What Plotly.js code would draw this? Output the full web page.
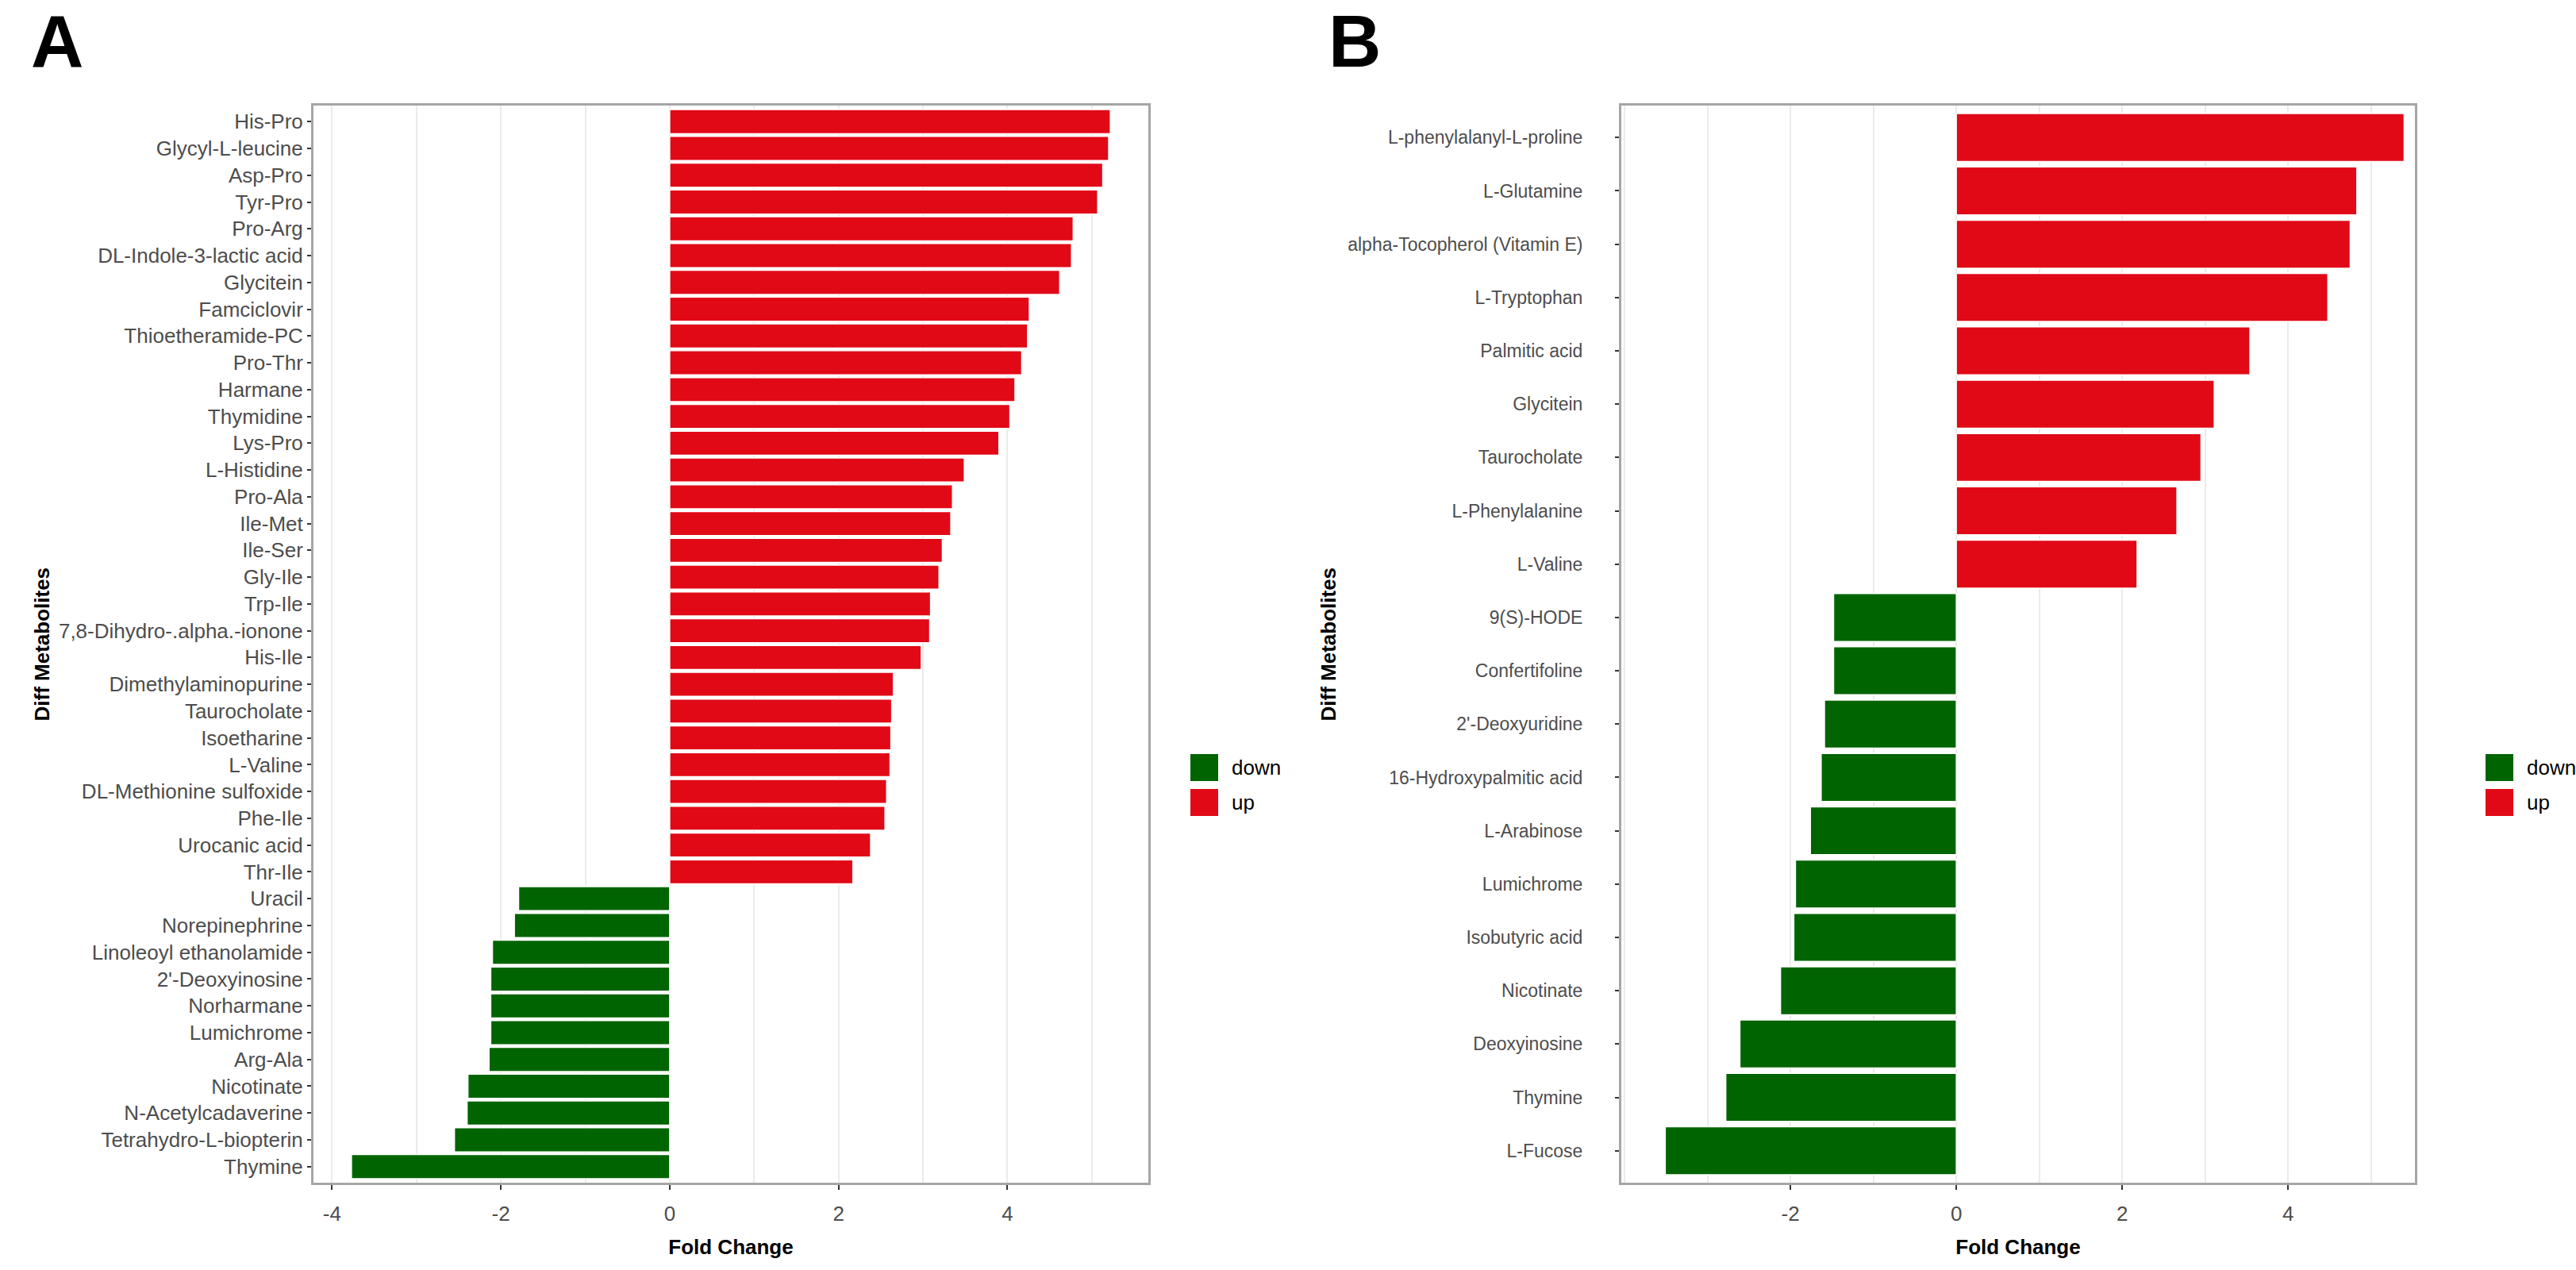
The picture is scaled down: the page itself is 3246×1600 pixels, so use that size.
<!DOCTYPE html>
<html><head><meta charset="utf-8">
<script src="https://cdn.plot.ly/plotly-3.0.1.min.js"></script>
<style>html,body{margin:0;padding:0;background:#fff}</style>
</head><body>
<div id="chart" style="width:3246px;height:1600px"></div>
<script>
// ---------- data ----------
const metabolitesA = ['His-Pro','Glycyl-L-leucine','Asp-Pro','Tyr-Pro','Pro-Arg','DL-Indole-3-lactic acid','Glycitein','Famciclovir','Thioetheramide-PC','Pro-Thr','Harmane','Thymidine','Lys-Pro','L-Histidine','Pro-Ala','Ile-Met','Ile-Ser','Gly-Ile','Trp-Ile','7,8-Dihydro-.alpha.-ionone','His-Ile','Dimethylaminopurine','Taurocholate','Isoetharine','L-Valine','DL-Methionine sulfoxide','Phe-Ile','Urocanic acid','Thr-Ile','Uracil','Norepinephrine','Linoleoyl ethanolamide',"2'-Deoxyinosine",'Norharmane','Lumichrome','Arg-Ala','Nicotinate','N-Acetylcadaverine','Tetrahydro-L-biopterin','Thymine'];
const foldChangeA = [5.22,5.20,5.13,5.07,4.78,4.76,4.62,4.26,4.24,4.17,4.09,4.03,3.90,3.49,3.35,3.33,3.23,3.19,3.09,3.08,2.98,2.65,2.63,2.62,2.61,2.57,2.55,2.38,2.17,-1.79,-1.84,-2.10,-2.12,-2.12,-2.12,-2.14,-2.39,-2.40,-2.55,-3.77];

const metabolitesB = ['L-phenylalanyl-L-proline','L-Glutamine','alpha-Tocopherol (Vitamin E)','L-Tryptophan','Palmitic acid','Glycitein','Taurocholate','L-Phenylalanine','L-Valine','9(S)-HODE','Confertifoline',"2'-Deoxyuridine",'16-Hydroxypalmitic acid','L-Arabinose','Lumichrome','Isobutyric acid','Nicotinate','Deoxyinosine','Thymine','L-Fucose'];
const foldChangeB = [5.40,4.83,4.75,4.48,3.54,3.11,2.95,2.66,2.18,-1.48,-1.48,-1.59,-1.63,-1.76,-1.94,-1.96,-2.12,-2.61,-2.78,-3.51];

const groupLabels = ['down','up'];
const ticksA = [-4,-2,0,2,4];
const ticksB = [-2,0,2,4];
const xTitle = 'Fold Change';
const yTitle = 'Diff Metabolites';
const panelLabels = ['A','B'];

// ---------- style ----------
const W = 3246, H = 1600;
const COLORS = {down:'#006400', up:'#E10916'};
const FONT = 'Liberation Sans, Arial, Helvetica, sans-serif';
const px = v => v / W;
const py = v => 1 - v / H;

function split(names, vals, xa, ya) {
  return groupLabels.map(g => {
    const y = [], x = [];
    names.forEach((n, i) => {
      const isUp = vals[i] > 0;
      if ((g === 'up') === isUp) { y.push(n); x.push(vals[i]); }
    });
    return {
      type:'bar', orientation:'h', x, y, name:g, xaxis:xa, yaxis:ya,
      width:0.9, showlegend:false, hoverinfo:'x+y',
      marker:{color:COLORS[g], line:{color:'#ffffff', width:1.5}}
    };
  });
}

const data = [
  ...split(metabolitesA, foldChangeA, 'x', 'y'),
  ...split(metabolitesB, foldChangeB, 'x2', 'y2')
];

const plotTop = 133, plotBottom = 1490;
function xAxis(dom, range, ticks, anchor) {
  return {
    domain:[px(dom[0]), px(dom[1])], anchor, range,
    tickvals:ticks, ticktext:ticks.map(String),
    tickfont:{family:FONT, size:26, color:'#4d4d4d'},
    ticks:'outside', ticklen:6, tickwidth:2, tickcolor:'#333333', ticklabelstandoff:8,
    showgrid:true, gridcolor:'#ebebeb', gridwidth:2,
    minor:{dtick:1, tick0:0, showgrid:true, gridcolor:'#ebebeb', gridwidth:2, ticklen:0},
    zeroline:false, showline:true, mirror:true, linecolor:'#a6a6a6', linewidth:3,
    automargin:false, fixedrange:true,
    title:{text:xTitle, font:{family:FONT, size:26, color:'#000', weight:'bold'}}
  };
}
function yAxis(names, anchor, standoff, fsize) {
  return {
    domain:[py(plotBottom), py(plotTop)], anchor, type:'category', categoryarray:names,
    range:[names.length - 0.4, -0.6],
    tickfont:{family:FONT, size:fsize, color:'#4d4d4d'},
    ticks:'outside', ticklen:5, tickwidth:2, tickcolor:'#333333', ticklabelstandoff:standoff,
    showgrid:false, zeroline:false, showline:true, mirror:true, linecolor:'#a6a6a6', linewidth:3,
    automargin:false, fixedrange:true
  };
}

// legend swatches + text (one legend per panel), y titles, panel letters
const legendX = [1500, 3132];
const legendY = [967, 1011];
const shapes = [], annotations = [];
legendX.forEach(lx => {
  groupLabels.forEach((g, k) => {
    shapes.push({type:'rect', xref:'paper', yref:'paper',
      x0:px(lx), x1:px(lx+35), y0:py(legendY[k]-17), y1:py(legendY[k]+17),
      fillcolor:COLORS[g], line:{width:0}});
    annotations.push({xref:'paper', yref:'paper', x:px(lx+50), y:py(legendY[k]),
      xanchor:'left', yanchor:'middle', showarrow:false, text:g,
      font:{family:FONT, size:26, color:'#000'}});
  });
});
[52, 1673].forEach(tx => {
  annotations.push({xref:'paper', yref:'paper', x:px(tx), y:py((plotTop+plotBottom)/2),
    xanchor:'center', yanchor:'middle', textangle:-90, showarrow:false, text:yTitle,
    font:{family:FONT, size:26, color:'#000', weight:'bold'}});
});
[[37, panelLabels[0]], [1672, panelLabels[1]]].forEach(([lx, t]) => {
  annotations.push({xref:'paper', yref:'paper', x:px(lx), y:py(52), xanchor:'left', yanchor:'middle',
    showarrow:false, text:t, font:{family:FONT, size:92, color:'#000', weight:'bold'}});
});

const layout = {
  width:W, height:H, margin:{l:0, r:0, t:0, b:0, pad:0},
  paper_bgcolor:'#ffffff', plot_bgcolor:'#ffffff',
  barmode:'overlay', showlegend:false,
  xaxis: xAxis([395, 1447], [-4.22, 5.67], ticksA, 'y'),
  yaxis: yAxis(metabolitesA, 'x', 0, 26),
  xaxis2: xAxis([2043, 3043], [-4.04, 5.53], ticksB, 'y2'),
  yaxis2: yAxis(metabolitesB, 'x2', 36, 23),
  shapes, annotations
};

Plotly.newPlot('chart', data, layout, {displayModeBar:false, staticPlot:true});
</script>
</body></html>
